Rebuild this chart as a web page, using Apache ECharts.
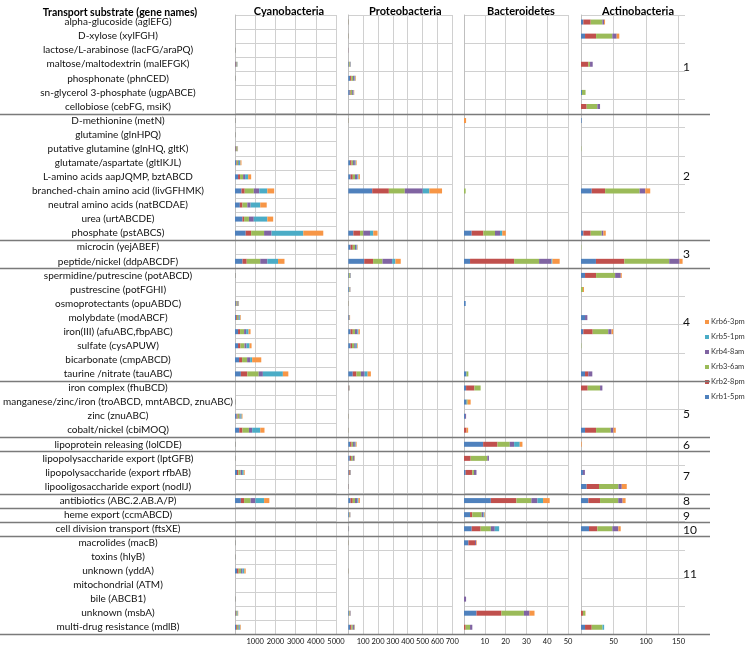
<!DOCTYPE html>
<html><head><meta charset="utf-8">
<script src="https://cdn.jsdelivr.net/npm/echarts@6/dist/echarts.min.js"></script>
<style>html,body{margin:0;padding:0;background:#fff}#c{width:745px;height:646px}</style>
</head><body><div id="c"></div>
<script>
const substrates = [
 'alpha-glucoside (aglEFG)','D-xylose (xylFGH)','lactose/L-arabinose (lacFG/araPQ)','maltose/maltodextrin (malEFGK)','phosphonate (phnCED)','sn-glycerol 3-phosphate (ugpABCE)','cellobiose (cebFG, msiK)',
 'D-methionine (metN)','glutamine (glnHPQ)','putative glutamine (glnHQ, gltK)','glutamate/aspartate (gltIKJL)','L-amino acids aapJQMP, bztABCD','branched-chain amino acid (livGFHMK)','neutral amino acids (natBCDAE)','urea (urtABCDE)','phosphate (pstABCS)',
 'microcin (yejABEF)','peptide/nickel (ddpABCDF)',
 'spermidine/putrescine (potABCD)','pustrescine (potFGHI)','osmoprotectants (opuABDC)','molybdate (modABCF)','iron(III) (afuABC,fbpABC)','sulfate (cysAPUW)','bicarbonate (cmpABCD)','taurine /nitrate (tauABC)',
 'iron complex (fhuBCD)','manganese/zinc/iron (troABCD, mntABCD, znuABC)','zinc (znuABC)','cobalt/nickel (cbiMOQ)',
 'lipoprotein releasing (lolCDE)',
 'lipopolysaccharide export (lptGFB)','lipopolysaccharide (export rfbAB)','lipooligosaccharide export (nodIJ)',
 'antibiotics (ABC.2.AB.A/P)','heme export (ccmABCD)','cell division transport (ftsXE)',
 'macrolides (macB)','toxins (hlyB)','unknown (yddA)','mitochondrial (ATM)','bile (ABCB1)','unknown (msbA)','multi-drug resistance (mdlB)'
];
const seriesNames = ['Krb1-5pm','Krb2-8pm','Krb3-6am','Krb4-8am','Krb5-1pm','Krb6-3pm'];
const seriesColors = ['#4F81BD','#C0504D','#9BBB59','#8064A2','#4BACC6','#F79646'];
const legendOrder = ['Krb6-3pm','Krb5-1pm','Krb4-8am','Krb3-6am','Krb2-8pm','Krb1-5pm'];
const groupEnds = [7,16,18,26,30,31,34,35,36,37,44];
const groupLabels = ['1','2','3','4','5','6','7','8','9','10','11'];
const groupLabelY = [68,177,255,323,415,446,477,502,517,531,575];

// Cyanobacteria
const cyanoKrb1 = [0,0,10,30,10,0,0,10,10,30,60,150,320,240,370,530,0,370,10,0,40,60,150,150,200,290,0,10,80,210,10,10,100,0,290,0,0,10,10,100,0,10,30,60];
const cyanoKrb2 = [0,0,5,20,5,0,0,5,5,20,30,100,160,130,80,270,0,210,5,0,30,40,100,120,150,320,0,5,50,160,5,5,70,0,160,0,0,5,5,80,0,5,20,40];
const cyanoKrb3 = [0,0,10,30,10,0,0,10,10,40,60,150,450,240,240,640,0,670,10,0,50,70,200,200,250,560,0,10,90,320,10,10,110,0,320,0,0,10,10,120,0,10,40,70];
const cyanoKrb4 = [0,0,5,20,5,0,0,5,5,20,40,100,270,160,240,370,0,350,5,0,30,40,100,100,150,210,0,5,50,160,5,5,70,0,240,0,0,5,5,70,0,5,20,40];
const cyanoKrb5 = [0,0,0,20,0,0,0,0,0,20,80,150,400,480,670,1570,0,530,0,0,30,50,120,150,100,990,0,0,60,400,0,0,80,0,430,0,0,0,0,90,0,0,30,50];
const cyanoKrb6 = [0,0,0,10,0,0,0,0,0,20,50,150,340,320,290,990,0,320,0,0,20,30,100,100,450,270,0,0,40,210,0,0,50,0,260,0,0,0,0,70,0,0,20,30];
// Proteobacteria
const proteoKrb1 = [1,1,1,4,12,10,0,1,0,0,12,15,161,0,0,34,15,107,4,6,1,4,15,15,0,30,2,0,1,1,12,10,4,1,15,5,2,1,0,1,0,0,5,12];
const proteoKrb2 = [1,1,1,3,8,6,0,1,0,0,10,15,112,0,0,45,15,60,2,2,1,2,15,10,0,25,2,0,1,1,10,8,6,1,15,3,1,1,0,1,0,0,3,8];
const proteoKrb3 = [1,1,0,5,12,10,0,1,0,0,10,15,107,0,0,22,15,63,6,3,1,3,15,15,0,30,2,0,1,1,10,12,3,1,15,3,1,1,0,1,0,0,4,10];
const proteoKrb4 = [0,0,0,3,10,8,0,0,0,0,12,15,121,0,0,45,10,65,3,2,0,2,15,10,0,25,2,0,0,0,12,8,3,1,15,2,1,0,0,0,0,0,3,8];
const proteoKrb5 = [0,0,0,2,5,3,0,0,0,0,6,8,45,0,0,22,5,22,2,1,0,0,8,8,0,20,1,0,0,0,6,4,1,0,8,1,0,0,0,0,0,0,1,4];
const proteoKrb6 = [0,0,0,1,4,3,0,0,0,0,6,10,85,0,0,29,3,36,1,1,0,1,10,5,0,22,1,0,0,0,6,3,1,0,10,1,0,0,0,0,0,0,1,3];
// Bacteroidetes
const bacteroKrb1 = [0,0,0,0,0,0,0,0,0,0,0,0,0,0,0,3.7,0,2.9,0,0,0.8,0,0,0,0,1.2,1,1.3,0.5,0,9.2,0,0.8,0,12.9,2.9,3.7,2.1,0,0,0,0,6,0];
const bacteroKrb2 = [0,0,0,0,0,0,0,0,0,0,0,0,0,0,0,5.6,0,21.2,0,0,0,0,0,0,0,0,4,0,0,1.2,6.9,3.2,3.2,0,12.3,1.1,4.3,3.2,0,0,0,0,12,0.8];
const bacteroKrb3 = [0,0,0,0,0,0,0,0,0,0,0,0,0.8,0,0,5.6,0,12,0,0,0,0,0,0,0,0.9,3,0.5,0,0,5.9,8,0.8,0,7.2,4.5,4.9,0,0,0,0,0,10.8,2.1];
const bacteroKrb4 = [0,0,0,0,0,0,0,0,0,0,0,0,0,0,0,2.4,0,5.9,0,0,0,0,0,0,0,0,0,0,0.5,0,2.1,0.8,1.2,0,2.9,0.8,1.9,0.5,0,0,0,1,2.7,1.1];
const bacteroKrb5 = [0,0,0,0,0,0,0,0,0,0,0,0,0,0,0,1.1,0,0.5,0,0,0,0,0,0,0,0,0,0,0,0,2.7,0,0,0,2.7,0.5,2.1,0,0,0,0,0,0,0];
const bacteroKrb6 = [0,0,0,0,0,0,0,1,0,0,0,0,0,0,0,1.7,0,3.5,0,0,0,0,0,0,0,0,0,1.4,0,0.8,1.3,0,0,0,3.2,0.3,0,0.3,0,0,0,0,2.4,0];
// Actinobacteria
const actinoKrb1 = [3.6,6.2,0,0,0,1.5,0,1,0,0,0,0,16.5,0,0,3.6,0,23,6.2,0,0,6.2,3.6,0,0,6.2,0,0,0,6.2,0,0,3,8.7,11.3,0,12.3,0,0,0,0,0,0,6.2];
const actinoKrb2 = [11.3,17,0,11.3,0,0,8.7,0,0,0,0,0,20.6,0,0,11.3,0,43.7,17,0,0,0,14.4,0,0,5,10.3,0,0,17,0,0,0,19,18,0,12.9,0,0,0,0,0,3,10.3];
const actinoKrb3 = [18,25,0,2.6,0,5.5,16.5,0,0,0.5,0,0,53,0,0,17,0.5,69,29.3,3,0,0,24,0.5,0,0,19,0,0,22.6,0,0,0,30,28,0,23,0,0,0,0,0,3.5,16.5];
const actinoKrb4 = [2.6,6.7,0,4.1,0,0,4.1,0,0,0,0,0,8.7,0,0,2.6,0,16,8.7,0,0,3.6,5,0,0,6.2,3.6,0,0,4.1,0,0,3,5,6.7,0,9.3,0,0,0,0,0,0,0];
const actinoKrb5 = [0,0,0,0,0,0,0,0,0,0,0,0,0,0,0,0,0,0,0,0,0,0,0,0,0,0,0,0,0,0,0,0,0,0,0,0,0,0,0,0,0,0,0,2.6];
const actinoKrb6 = [1.5,4,0,0,0,0,0,0,0,0,0,0,7.7,0,0,3.6,0,4.6,1.5,1.6,0,0,2.5,0,0,0,0,0,0,3.6,1,0,0,7.7,4.6,0,3.6,0,0,0,0,0,0.5,0];

const panelTitles = ['Cyanobacteria','Proteobacteria','Bacteroidetes','Actinobacteria'];
const panelMax = [5000,700,50,160];
const panelInterval = [1000,100,10,50];
const panelData = [
 [cyanoKrb1,cyanoKrb2,cyanoKrb3,cyanoKrb4,cyanoKrb5,cyanoKrb6],
 [proteoKrb1,proteoKrb2,proteoKrb3,proteoKrb4,proteoKrb5,proteoKrb6],
 [bacteroKrb1,bacteroKrb2,bacteroKrb3,bacteroKrb4,bacteroKrb5,bacteroKrb6],
 [actinoKrb1,actinoKrb2,actinoKrb3,actinoKrb4,actinoKrb5,actinoKrb6]
];

// layout
const gridTop = 15, gridH = 619.3, gridW = 104;
const gridLefts = [232, 348.3, 464, 581];
const rowH = gridH / substrates.length;
const FONT = 'Lato, "Open Sans", sans-serif';
const gridColor = '#d0d0d0';

const grids = [], xAxes = [], yAxes = [], series = [], titles = [];
titles.push({text:'Transport substrate (gene names)', left:115, top:2, textAlign:'center',
  textStyle:{fontFamily:FONT, fontSize:10.5, fontWeight:'bold', color:'#000'}});
for (let p = 0; p < 4; p++) {
  grids.push({left:gridLefts[p], top:gridTop, width:gridW, height:gridH, containLabel:false});
  titles.push({text:panelTitles[p], left:gridLefts[p] + gridW/2, top:1, textAlign:'center',
    textStyle:{fontFamily:FONT, fontSize:11, fontWeight:'bold', color:'#000'}});
  xAxes.push({type:'value', gridIndex:p, min:0, max:panelMax[p], interval:panelInterval[p],
    axisLine:{show:false}, axisTick:{show:false},
    splitLine:{show:true, showMaxLine: p !== 3, lineStyle:{color:gridColor, width:1}},
    axisLabel:{showMinLabel:false, showMaxLabel: p !== 3, hideOverlap:false, margin:3,
      formatter: v => String(v), fontFamily:FONT, fontSize:7.5, color:'#111'}});
  yAxes.push({type:'category', gridIndex:p, data:substrates, inverse:true,
    axisLine:{show:true, lineStyle:{color:'#bfbfbf'}}, axisTick:{show:false},
    splitLine:{show:true, lineStyle:{color:gridColor, width:1}},
    axisLabel: p === 0 ? {show:true, align:'center', margin:117, interval:0, fontFamily:FONT, fontSize:10, color:'#111'} : {show:false}});
  for (let s = 0; s < 6; s++) {
    series.push({type:'bar', name:seriesNames[s], xAxisIndex:p, yAxisIndex:p, stack:'panel'+p,
      barWidth:5, data:panelData[p][s], itemStyle:{color:seriesColors[s]}, silent:true, animation:false});
  }
}

const graphics = [];
groupEnds.forEach(b => {
  const y = Math.round(gridTop + b*rowH) + 0.5;
  graphics.push({type:'line', shape:{x1:0, y1:y, x2:710, y2:y}, style:{stroke:'#7a7a7a', lineWidth:1.5}, z:100});
});
groupLabels.forEach((t,i) => {
  graphics.push({type:'text', left:683, top:groupLabelY[i]-7, style:{text:t, fontFamily:FONT, fontSize:12, fill:'#111'}, z:100});
});

const chart = echarts.init(document.getElementById('c'), null, {renderer:'canvas'});
chart.setOption({
  animation:false,
  title:titles,
  grid:grids, xAxis:xAxes, yAxis:yAxes, series:series,
  legend:{orient:'vertical', left:700, top:313, itemWidth:4, itemHeight:4, itemGap:7,
    data:legendOrder,
    textStyle:{fontFamily:FONT, fontSize:7.5, color:'#333', padding:[0,0,0,-3]}, icon:'rect', selectedMode:false},
  graphic:graphics
});
</script></body></html>
